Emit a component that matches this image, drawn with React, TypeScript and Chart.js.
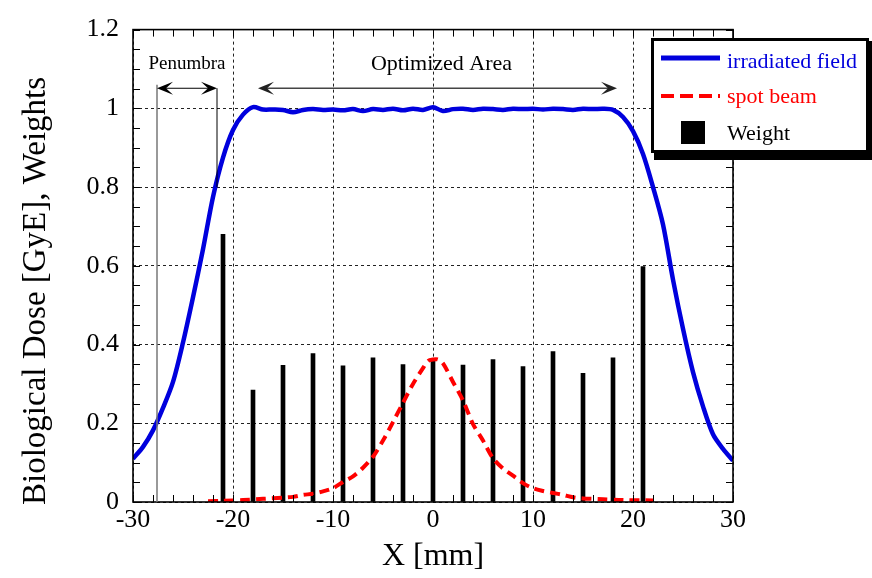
import React, { useEffect, useRef } from 'react';
import { Chart, registerables } from 'chart.js';

Chart.register(...registerables);

// ---------- data ----------
const fieldX = [-30, -29, -28, -27, -26, -25, -24, -23, -22, -21, -20, -19, -18, -17, -16, -15, -14, -13, -12, -11, -10, -9, -8, -7, -6, -5, -4, -3, -2, -1, 0, 1, 2, 3, 4, 5, 6, 7, 8, 9, 10, 11, 12, 13, 14, 15, 16, 17, 18, 19, 20, 21, 22, 23, 24, 25, 26, 27, 28, 29, 30];
const fieldY = [0.110, 0.140, 0.182, 0.239, 0.305, 0.405, 0.520, 0.642, 0.775, 0.875, 0.945, 0.984, 1.003, 0.997, 0.997, 0.996, 0.990, 0.996, 0.998, 0.996, 0.997, 0.995, 0.998, 0.993, 0.998, 0.996, 0.999, 0.995, 0.999, 0.996, 1.003, 0.993, 0.998, 0.999, 0.996, 0.999, 0.998, 0.996, 0.999, 0.998, 0.999, 0.997, 0.999, 0.998, 0.996, 0.999, 0.998, 0.999, 0.996, 0.978, 0.942, 0.884, 0.800, 0.705, 0.565, 0.440, 0.330, 0.243, 0.172, 0.135, 0.105];

const spotX = [-22.5, -21, -19, -17, -15, -14, -13, -12, -11, -10, -9, -8, -7, -6, -5, -4, -3, -2, -1, -0.5, 0, 0.5, 1, 2, 3, 4, 5, 6, 7, 8, 9, 10, 11, 12, 13, 14, 15, 17, 19, 22];
const spotY = [0.002, 0.003, 0.005, 0.008, 0.011, 0.013, 0.018, 0.021, 0.027, 0.035, 0.051, 0.065, 0.087, 0.115, 0.156, 0.203, 0.252, 0.300, 0.340, 0.358, 0.362, 0.362, 0.352, 0.305, 0.258, 0.198, 0.156, 0.111, 0.085, 0.067, 0.048, 0.035, 0.028, 0.023, 0.018, 0.012, 0.009, 0.007, 0.005, 0.004];

const weightX = [-21, -18, -15, -12, -9, -6, -3, 0, 3, 6, 9, 12, 15, 18, 21];
const weightY = [0.680, 0.284, 0.347, 0.377, 0.346, 0.366, 0.349, 0.363, 0.348, 0.362, 0.344, 0.382, 0.327, 0.366, 0.598];

const seriesLabels = ['irradiated field', 'spot beam', 'Weight'];
const xRange = [-30, 30];
const xStep = 10;
const yRange = [0, 1.2];
const yStep = 0.2;
const xTitle = 'X [mm]';
const yTitle = 'Biological Dose [GyE], Weights';

// annotation values (data units)
const penumbraRange = [-27.6, -21.6];
const penumbraLabel = 'Penumbra';
const optimizedRange = [-17.5, 18.4];
const optimizedLabel = 'Optimized Area';

const SERIF = "'Liberation Serif', 'Times New Roman', serif";

function arrowHead(ctx: CanvasRenderingContext2D, x: number, y: number, dir: number) {
  ctx.beginPath();
  ctx.moveTo(x, y);
  ctx.lineTo(x - dir * 16, y - 6.5);
  ctx.lineTo(x - dir * 9, y);
  ctx.lineTo(x - dir * 16, y + 6.5);
  ctx.closePath();
  ctx.fill();
}

const framePlugin = {
  id: 'framePlugin',
  afterDraw(chart: any) {
    const { ctx, chartArea: a } = chart;
    const x = chart.scales.x;
    const y = chart.scales.y;
    ctx.save();

    // inner minor ticks on all four sides
    ctx.strokeStyle = '#000';
    ctx.lineWidth = 1;
    ctx.beginPath();
    for (let i = -15; i <= 15; i++) {
      const px = Math.round(x.getPixelForValue(i * 2)) + 0.5;
      ctx.moveTo(px, a.bottom); ctx.lineTo(px, a.bottom - 7);
      ctx.moveTo(px, a.top); ctx.lineTo(px, a.top + 7);
    }
    for (let i = 0; i <= 24; i++) {
      const py = Math.round(y.getPixelForValue(i * 0.05)) + 0.5;
      ctx.moveTo(a.left, py); ctx.lineTo(a.left + 7, py);
      ctx.moveTo(a.right, py); ctx.lineTo(a.right - 7, py);
    }
    ctx.stroke();

    // frame
    ctx.lineWidth = 1.6;
    ctx.strokeRect(a.left, a.top, a.right - a.left, a.bottom - a.top);

    // y axis title
    ctx.save();
    ctx.translate(36.5, 505);
    ctx.rotate(-Math.PI / 2);
    ctx.font = `33px ${SERIF}`;
    ctx.fillStyle = '#000';
    ctx.textAlign = 'left';
    ctx.textBaseline = 'middle';
    ctx.fillText(yTitle, 0, 0);
    ctx.restore();

    // Penumbra annotation
    const p1 = x.getPixelForValue(penumbraRange[0]);
    const p2 = x.getPixelForValue(penumbraRange[1]);
    const arrowY = y.getPixelForValue(1.051);
    ctx.strokeStyle = '#777';
    ctx.lineWidth = 1.5;
    ctx.beginPath();
    ctx.moveTo(p1, y.getPixelForValue(1.06));
    ctx.lineTo(p1, a.bottom);
    ctx.stroke();
    ctx.strokeStyle = '#000';
    ctx.lineWidth = 1;
    ctx.beginPath();
    ctx.moveTo(p2, arrowY);
    ctx.lineTo(p2, y.getPixelForValue(0.8));
    ctx.stroke();
    ctx.beginPath();
    ctx.moveTo(p1 + 4, arrowY);
    ctx.lineTo(p2 - 4, arrowY);
    ctx.stroke();
    ctx.fillStyle = '#000';
    arrowHead(ctx, p1, arrowY, -1);
    arrowHead(ctx, p2, arrowY, 1);
    ctx.font = `19px ${SERIF}`;
    ctx.textAlign = 'center';
    ctx.textBaseline = 'alphabetic';
    ctx.fillText(penumbraLabel, (p1 + p2) / 2, y.getPixelForValue(1.10));

    // Optimized area annotation
    const o1 = x.getPixelForValue(optimizedRange[0]);
    const o2 = x.getPixelForValue(optimizedRange[1]);
    ctx.strokeStyle = '#444';
    ctx.fillStyle = '#222';
    ctx.lineWidth = 1.5;
    ctx.beginPath();
    ctx.moveTo(o1 + 4, arrowY);
    ctx.lineTo(o2 - 4, arrowY);
    ctx.stroke();
    arrowHead(ctx, o1, arrowY, -1);
    arrowHead(ctx, o2, arrowY, 1);
    ctx.fillStyle = '#000';
    ctx.font = `22px ${SERIF}`;
    ctx.fillText(optimizedLabel, x.getPixelForValue(0.85), y.getPixelForValue(1.097));

    // Legend box
    const lx = 651, ly = 38, lw = 218, lh = 115;
    ctx.fillStyle = '#000';
    ctx.fillRect(lx + 3, ly + 3, lw + 3, lh + 4);
    ctx.fillStyle = '#fff';
    ctx.fillRect(lx, ly, lw, lh);
    ctx.strokeStyle = '#000';
    ctx.lineWidth = 3;
    ctx.strokeRect(lx + 1.5, ly + 1.5, lw - 3, lh - 3);

    const ds = chart.data.datasets;
    ctx.lineWidth = 5;
    ctx.strokeStyle = ds[0].borderColor;
    ctx.beginPath(); ctx.moveTo(661, 58); ctx.lineTo(720, 58); ctx.stroke();
    ctx.strokeStyle = ds[1].borderColor;
    ctx.lineWidth = 4;
    ctx.setLineDash([13, 6]);
    ctx.beginPath(); ctx.moveTo(661, 96); ctx.lineTo(720, 96); ctx.stroke();
    ctx.setLineDash([]);
    ctx.fillStyle = '#000';
    ctx.fillRect(681, 121, 24, 23);

    ctx.font = `22px ${SERIF}`;
    ctx.textAlign = 'left';
    ctx.fillStyle = ds[0].borderColor;
    ctx.fillText(ds[0].label, 727, 68);
    ctx.fillStyle = ds[1].borderColor;
    ctx.fillText(ds[1].label, 727, 103);
    ctx.fillStyle = '#000';
    ctx.fillText(ds[2].label, 727, 140);

    ctx.restore();
  },
};

export default function App() {
  const canvasRef = useRef<HTMLCanvasElement | null>(null);

  useEffect(() => {
    const canvas = canvasRef.current;
    if (!canvas) return;
    const chart = new Chart(canvas, {
      type: 'line',
      data: {
        datasets: [
          {
            type: 'line',
            label: seriesLabels[0],
            data: fieldX.map((v, i) => ({ x: v, y: fieldY[i] })),
            borderColor: '#0000dd',
            borderWidth: 4.5,
            pointRadius: 0,
            tension: 0.3,
            fill: false,
          },
          {
            type: 'line',
            label: seriesLabels[1],
            data: spotX.map((v, i) => ({ x: v, y: spotY[i] })),
            borderColor: '#ff0000',
            borderWidth: 4,
            borderDash: [10, 6],
            pointRadius: 0,
            tension: 0.3,
            fill: false,
          },
          {
            type: 'bar',
            label: seriesLabels[2],
            data: weightX.map((v, i) => ({ x: v, y: weightY[i] })),
            backgroundColor: '#000',
            borderWidth: 0,
            barThickness: 4,
            grouped: false,
          } as any,
        ],
      },
      options: {
        animation: false,
        responsive: false,
        devicePixelRatio: 1,
        layout: { padding: { top: 24, right: 139, bottom: 0, left: 0 } },
        plugins: { legend: { display: false }, tooltip: { enabled: false } },
        scales: {
          x: {
            type: 'linear',
            min: xRange[0],
            max: xRange[1],
            offset: false,
            afterFit: (s: any) => { s.height = 76; },
            grid: { color: '#222', lineWidth: 1, drawTicks: false, offset: false },
            border: { display: false, dash: [3, 3] },
            ticks: {
              stepSize: xStep,
              autoSkip: false,
              color: '#000',
              font: { family: SERIF, size: 26 },
              padding: 3,
              maxRotation: 0,
              callback: (v: any) => String(v),
            },
            title: {
              display: true,
              text: xTitle,
              color: '#000',
              font: { family: SERIF, size: 32 },
              padding: { top: 0, bottom: 2 },
            },
          },
          y: {
            type: 'linear',
            min: yRange[0],
            max: yRange[1],
            afterFit: (s: any) => { s.width = 133; },
            grid: { color: '#222', lineWidth: 1, drawTicks: false, offset: false },
            border: { display: false, dash: [3, 3] },
            ticks: {
              stepSize: yStep,
              autoSkip: false,
              color: '#000',
              font: { family: SERIF, size: 26 },
              padding: 14,
              callback: (v: any) => String(+Number(v).toFixed(1)),
            },
            title: { display: false, text: yTitle },
          },
        },
      },
      plugins: [framePlugin],
    } as any);
    return () => chart.destroy();
  }, []);

  return (
    <div style={{ position: 'fixed', left: 0, top: 0, width: 872, height: 578, background: '#fff' }}>
      <canvas ref={canvasRef} width={872} height={578} style={{ width: 872, height: 578, display: 'block' }} />
    </div>
  );
}
